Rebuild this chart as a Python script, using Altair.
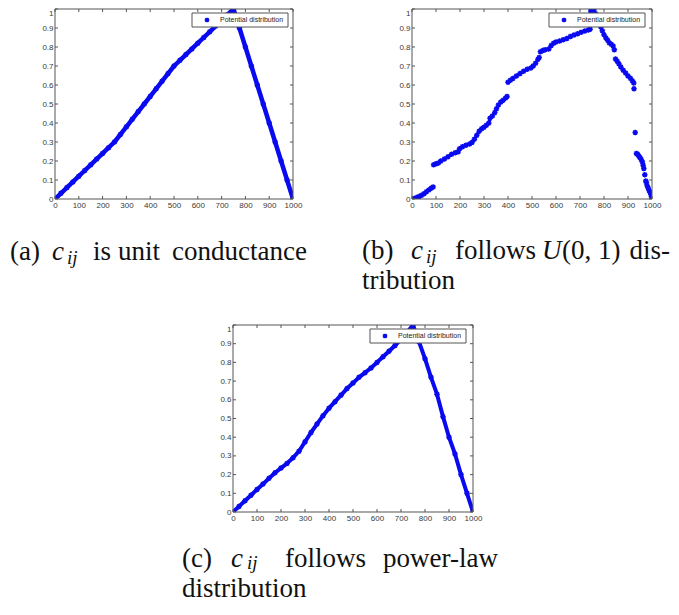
import altair as alt
import pandas as pd

# ---------------- data ----------------
x_ticks = [0, 100, 200, 300, 400, 500, 600, 700, 800, 900, 1000]
y_ticks = [0, 0.1, 0.2, 0.3, 0.4, 0.5, 0.6, 0.7, 0.8, 0.9, 1]
legend_label = "Potential distribution"

# (a) unit conductance
a_x = [0, 25, 50, 75, 100, 125, 150, 175, 200, 225, 250, 275, 300, 325, 350, 375, 400,
       425, 450, 475, 500, 525, 550, 575, 600, 625, 650, 675, 700, 725, 750,
       775, 800, 825, 850, 875, 900, 925, 950, 975, 1000]
a_y = [0, 0.03, 0.06, 0.09, 0.12, 0.15, 0.18, 0.21, 0.24, 0.27, 0.30, 0.34, 0.38, 0.42,
       0.46, 0.50, 0.54, 0.58, 0.62, 0.66, 0.70, 0.73, 0.76, 0.79, 0.82, 0.85, 0.88,
       0.91, 0.94, 0.97, 1.0, 0.90, 0.80, 0.70, 0.60, 0.50, 0.40, 0.30, 0.20, 0.10, 0.0]

# (b) U(0,1) conductance
b_x = [0, 10, 20, 30, 40, 50, 60, 70, 80, 88,
       90, 100, 110, 120, 135, 150, 165, 180, 192, 198, 210, 225, 240, 250, 260, 270,
       280, 290, 300, 310, 320, 325, 335, 345, 352, 360, 370, 380, 390, 396,
       400, 410, 420, 435, 450, 465, 480, 495, 505, 515, 525, 530,
       535, 545, 555, 570, 580, 590, 600, 615, 630, 645, 660, 675, 690, 705, 720, 735, 742,
       745, 750, 758, 765, 772, 780, 787, 793, 800, 808, 815, 822, 830, 838, 843,
       848, 855, 862, 870, 880, 890, 900, 910, 918, 924,
       925, 930,
       935, 940, 945, 950, 955, 960, 963, 966,
       970, 974, 977,
       980, 984, 988, 992, 995, 998, 1000]
b_y = [0, 0.003, 0.008, 0.013, 0.02, 0.028, 0.038, 0.048, 0.057, 0.063,
       0.18, 0.185, 0.19, 0.2, 0.21, 0.222, 0.235, 0.243, 0.248, 0.265, 0.275, 0.283,
       0.29, 0.298, 0.315, 0.335, 0.357, 0.37, 0.378, 0.388, 0.40, 0.425, 0.437, 0.455,
       0.475, 0.495, 0.51, 0.52, 0.532, 0.54,
       0.614, 0.625, 0.634, 0.647, 0.66, 0.672, 0.683, 0.69, 0.70, 0.715, 0.735, 0.745,
       0.775, 0.782, 0.786, 0.79, 0.808, 0.82, 0.826, 0.832, 0.838, 0.845, 0.855, 0.863,
       0.87, 0.877, 0.884, 0.89, 0.893,
       0.99, 1.0, 0.995, 0.975, 0.955, 0.93, 0.905, 0.885, 0.865, 0.848, 0.835, 0.822,
       0.815, 0.805, 0.785,
       0.737, 0.725, 0.712, 0.695, 0.678, 0.663, 0.648, 0.635, 0.622, 0.61,
       0.58, 0.35,
       0.24, 0.235, 0.225, 0.218, 0.208, 0.195, 0.178, 0.16,
       0.128, 0.095, 0.085,
       0.07, 0.058, 0.045, 0.035, 0.025, 0.012, 0.002]
# x positions where the curve jumps (start of a new run of points)
b_breaks = [90, 400, 535, 745, 848, 925, 930, 935, 970, 974, 980]

# (c) power-law conductance
c_x = [0, 25, 50, 75, 100, 125, 150, 175, 200, 225, 250, 275, 300, 325, 350, 375, 400,
       425, 450, 475, 500, 525, 550, 575, 600, 625, 650, 675, 700, 725, 750,
       775, 800, 825, 850, 875, 900, 925, 950, 975, 1000]
c_y = [0, 0.03, 0.06, 0.09, 0.12, 0.15, 0.18, 0.21, 0.235, 0.26, 0.29, 0.325, 0.375, 0.425,
       0.47, 0.515, 0.555, 0.59, 0.625, 0.66, 0.69, 0.72, 0.745, 0.77, 0.80, 0.83, 0.86,
       0.89, 0.925, 0.96, 1.0, 0.91, 0.82, 0.72, 0.63, 0.51, 0.40, 0.31, 0.20, 0.10, 0.0]

cap_a = ["(a)", "c", "ij", "is", "unit", "conductance"]
cap_b = ["(b)", "c", "ij", "follows", "U", "(0, 1)", "dis-", "tribution"]
cap_c = ["(c)", "c", "ij", "follows", "power-law", "distribution"]

# ---------------- styling ----------------
BLUE = "#0a0af0"
BOX = "#555555"
LABEL = "#3a3a3a"
STAR = "M-1,0L1,0M0,-1L0,1M-0.72,-0.72L0.72,0.72M-0.72,0.72L0.72,-0.72"
SERIF = "Liberation Serif, DejaVu Serif, serif"
SANS = "Liberation Sans, Arial, sans-serif"
CAP = 27
SUB = 19

XS = alt.Scale(domain=[0, 1000], nice=False, zero=False)
YS = alt.Scale(domain=[0, 1], nice=False, zero=False)

X_AXIS = alt.Axis(values=x_ticks, format="d", domain=False, ticks=False, grid=False,
                  title=None, labelFont=SANS, labelFontSize=8, labelColor=LABEL,
                  labelPadding=2, labelFlush=False, labelOverlap=False)
Y_AXIS = alt.Axis(values=y_ticks, format="~g", domain=False, ticks=False, grid=False,
                  title=None, labelFont=SANS, labelFontSize=8, labelColor=LABEL,
                  labelPadding=2, labelFlush=False, labelOverlap=False,
                  labelBaseline={"condition": {"test": "datum.value >= 1", "value": "top"},
                                 "value": "middle"})

one = pd.DataFrame({"label": [legend_label]})


def frame_layer(fx1, fx2, fy1, fy2):
    return alt.Chart(one).mark_rect(fill="white", opacity=0.001).encode(
        x=alt.value(fx1), x2=alt.value(fx2), y=alt.value(fy1), y2=alt.value(fy2))


def make_panel(df, w, h, line_w, frame, caption):
    ex = alt.X("x:Q", scale=XS, axis=X_AXIS)
    ey = alt.Y("y:Q", scale=YS, axis=Y_AXIS)
    line = alt.Chart(df).mark_line(color=BLUE, strokeWidth=line_w, clip=True,
                                   strokeJoin="round", strokeCap="round").encode(
        x=ex, y=ey, detail="seg:N")
    pts = alt.Chart(df).mark_point(shape=STAR, filled=False, color=BLUE, strokeWidth=1.5,
                                   size=30, opacity=1, clip=True).encode(x=ex, y=ey)

    xt = pd.DataFrame({"x": x_ticks})
    yt = pd.DataFrame({"y": y_ticks})
    tb = alt.Chart(xt).mark_rule(color=BOX, strokeWidth=1).encode(
        x=ex, y=alt.value(h), y2=alt.value(h - 3))
    tt = alt.Chart(xt).mark_rule(color=BOX, strokeWidth=1).encode(
        x=ex, y=alt.value(0), y2=alt.value(3))
    tl = alt.Chart(yt).mark_rule(color=BOX, strokeWidth=1).encode(
        y=ey, x=alt.value(0), x2=alt.value(3))
    tr = alt.Chart(yt).mark_rule(color=BOX, strokeWidth=1).encode(
        y=ey, x=alt.value(w), x2=alt.value(w - 3))
    box = alt.Chart(one).mark_rect(fill=None, stroke=BOX, strokeWidth=1).encode(
        x=alt.value(0), x2=alt.value(w), y=alt.value(0), y2=alt.value(h))

    leg_box = alt.Chart(one).mark_rect(fill="white", stroke=BOX, strokeWidth=1).encode(
        x=alt.value(137), x2=alt.value(233), y=alt.value(4), y2=alt.value(18))
    leg_sym = alt.Chart(one).mark_point(shape=STAR, filled=False, color=BLUE,
                                        strokeWidth=1.4, size=22, opacity=1).encode(
        x=alt.value(152), y=alt.value(11))
    leg_txt = alt.Chart(one).mark_text(align="left", baseline="middle", font=SANS,
                                       fontSize=7, color="#222222").encode(
        x=alt.value(165), y=alt.value(11), text="label:N")

    caps = []
    for (txt, cx, cy, size, style, align) in caption:
        caps.append(
            alt.Chart(one).mark_text(text=txt, align=align, baseline="alphabetic",
                                     font=SERIF, fontSize=size, fontStyle=style,
                                     color="#111111").encode(
                x=alt.value(cx), y=alt.value(cy)))

    return alt.layer(line, pts, tb, tt, tl, tr, box, leg_box, leg_sym, leg_txt,
                     frame_layer(*frame), *caps).properties(width=w, height=h)


df_a = pd.DataFrame({"x": a_x, "y": a_y, "seg": 0})
df_b = pd.DataFrame({"x": b_x, "y": b_y})
df_b["seg"] = [sum(1 for b in b_breaks if b <= v) for v in b_x]
df_c = pd.DataFrame({"x": c_x, "y": c_y, "seg": 0})

A = make_panel(df_a, 238, 190, 4.5, (-47, 285, 0, 290), [
    (cap_a[0], -45, 251, CAP, "normal", "left"),
    (cap_a[1], -3, 251, CAP, "italic", "left"),
    (cap_a[2], 12, 255, SUB, "italic", "left"),
    (cap_a[3], 38, 251, CAP, "normal", "left"),
    (cap_a[4], 63, 251, CAP, "normal", "left"),
    (cap_a[5], 117, 251, CAP, "normal", "left"),
])
B = make_panel(df_b, 240, 190, 3, (-72, 259, 0, 290), [
    (cap_b[0], -50, 250, CAP, "normal", "left"),
    (cap_b[1], -1, 250, CAP, "italic", "left"),
    (cap_b[2], 14, 254, SUB, "italic", "left"),
    (cap_b[3], 43, 250, CAP, "normal", "left"),
    (cap_b[4], 130, 250, CAP, "italic", "left"),
    (cap_b[5], 150, 250, CAP, "normal", "left"),
    (cap_b[6], 258, 250, CAP, "normal", "right"),
    (cap_b[7], -50, 280, CAP, "normal", "left"),
])
C = make_panel(df_c, 240, 187, 4, (-60, 270, -26, 250), [
    (cap_c[0], -51, 242, CAP, "normal", "left"),
    (cap_c[1], -2, 242, CAP, "italic", "left"),
    (cap_c[2], 14, 244, SUB, "italic", "left"),
    (cap_c[3], 52, 242, CAP, "normal", "left"),
    (cap_c[4], 265, 242, CAP, "normal", "right"),
    (cap_c[5], -51, 272, CAP, "normal", "left"),
])
# empty spacer that centres panel (c) under the top row
spacer = frame_layer(0, 118, 0, 2).properties(width=118, height=2)

row1 = alt.hconcat(A, B, spacing=0)
row2 = alt.hconcat(spacer, C, spacing=0)
chart = alt.vconcat(row1, row2, spacing=0).properties(padding=0).configure_view(
    strokeWidth=0)

chart.save("out.html", embed_options={"renderer": "svg", "actions": False})
